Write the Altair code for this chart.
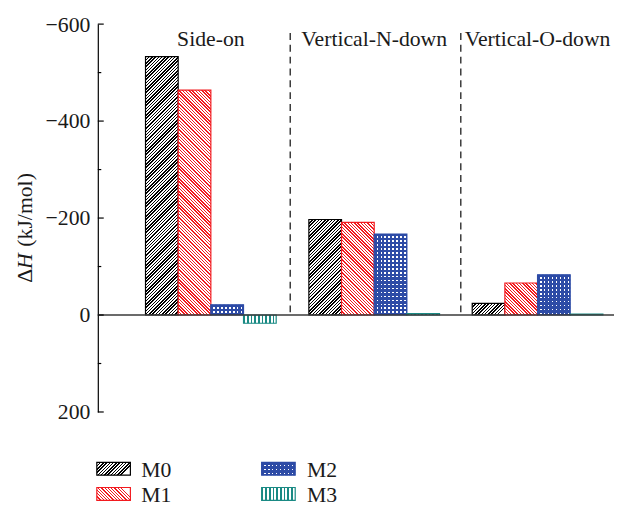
import altair as alt
import pandas as pd

# ---------------- data ----------------
groups = ["Side-on", "Vertical-N-down", "Vertical-O-down"]
series = ["M0", "M1", "M2", "M3"]
m0 = [-533, -197, -24]
m1 = [-464, -191, -66]
m2 = [-21, -167, -83]
m3 = [17, -3, -2]
y_ticks = [-600, -400, -200, 0, 200]
y_minor = [-500, -300, -100, 100]
separators = [0.486, 1.53]

values = {"M0": m0, "M1": m1, "M2": m2, "M3": m3}
rows = []
for si, s in enumerate(series):
    for gi, g in enumerate(groups):
        rows.append({"group": g, "gi": gi, "series": s, "si": si, "value": values[s][gi]})
df = pd.DataFrame(rows)

# ---------------- layout / style ----------------
PLOT_W, PLOT_H = 523, 393
LEFT, TOP = 99, 21  # page pixel of plot origin
X_DOM = [-0.692, 2.468]
Y_DOM = [-600, 200]
BAR_W = 0.2
PX_X = PLOT_W / (X_DOM[1] - X_DOM[0])
PX_Y = PLOT_H / (Y_DOM[1] - Y_DOM[0])
FONT = "Liberation Serif"
FS = 22

colors = {"M0": "#000000", "M1": "#f21a1f", "M2": "#2d4ba6", "M3": "#1a8a84"}

xs = alt.Scale(domain=X_DOM, nice=False, zero=False)
ys = alt.Scale(domain=Y_DOM, reverse=True, nice=False, zero=False)
yaxis = alt.Axis(values=y_ticks, ticks=False, grid=False, domain=True,
                 domainColor="#000000", domainWidth=1.2, labelFont=FONT,
                 labelFontSize=FS, labelColor="#1a1a1a", labelPadding=8,
                 title=None)


def xv(px):
    return X_DOM[0] + (px - LEFT) / PX_X


def yv(py):
    return Y_DOM[0] + (py - TOP) / PX_Y


def XF(field):
    return alt.X(field, type="quantitative", scale=xs, axis=None)


def YF(field):
    return alt.Y(field, type="quantitative", scale=ys, axis=yaxis)


def XD(v):
    return alt.X(datum=v, type="quantitative", scale=xs, axis=None)


def YD(v):
    return alt.Y(datum=v, type="quantitative", scale=ys, axis=yaxis)


def stripe_stops(L, smax, period, duty, fg, bg):
    stops = []
    k = 0
    while k * period <= smax:
        a = k * period / L
        b = (k * period + duty * period) / L
        c = (k + 1) * period / L
        for off, col in ((a, fg), (b, fg), (b, bg), (c, bg)):
            stops.append(alt.GradientStop(offset=round(min(off, 1.0), 5), color=col))
        if c >= 1:
            break
        k += 1
    return stops


def pattern(kind, w, h, fg, bg="#ffffff", period=3.4, duty=0.45):
    h = max(h, 0.5)
    if kind == "fwd":
        L = (w * w + h * h) / w
        st = stripe_stops(L, w + h, period, duty, fg, bg)
        return alt.LinearGradient(gradient="linear", stops=st, x1=0, y1=0, x2=1, y2=h / w)
    if kind == "back":
        L = (w * w + h * h) / w
        st = stripe_stops(L, w + h, period, duty, fg, bg)
        return alt.LinearGradient(gradient="linear", stops=st, x1=0, y1=1, x2=1, y2=1 - h / w)
    if kind == "vert":
        st = stripe_stops(w, w, period, duty, fg, bg)
        return alt.LinearGradient(gradient="linear", stops=st, x1=0, y1=0, x2=1, y2=0)
    st = stripe_stops(h, h, period, duty, fg, bg)
    return alt.LinearGradient(gradient="linear", stops=st, x1=0, y1=0, x2=0, y2=1)


def fills(s, w, h):
    """list of (fill, stroke?) layers for a series style"""
    c = colors[s]
    if s == "M0":
        return [(pattern("fwd", w, h, c, period=3.3, duty=0.45), True)]
    if s == "M1":
        return [(pattern("back", w, h, c, period=3.3, duty=0.42), True)]
    if s == "M3":
        return [(pattern("vert", w, h, c, period=3.7, duty=0.45), True)]
    return [(pattern("horiz", w, h, c, period=4.0, duty=0.6), False),
            (pattern("vert", w, h, c, bg="rgba(255,255,255,0)", period=4.0, duty=0.6), True)]


layers = []
bar_w_px = BAR_W * PX_X

# ---------------- bars ----------------
for _, r in df.iterrows():
    h_px = abs(r["value"]) * PX_Y
    for fill, stroke in fills(r["series"], bar_w_px, h_px):
        mk = dict(fill=fill, strokeWidth=1.2)
        if stroke:
            mk["stroke"] = colors[r["series"]]
        else:
            mk["strokeWidth"] = 0
        layers.append(
            alt.Chart(df)
            .transform_filter((alt.datum.gi == int(r["gi"])) & (alt.datum.si == int(r["si"])))
            .transform_calculate(x0=f"datum.gi + (datum.si - 2) * {BAR_W}",
                                 x1=f"datum.gi + (datum.si - 1) * {BAR_W}")
            .mark_rect(**mk)
            .encode(x=XF("x0"), x2="x1:Q", y=YF("value"), y2=alt.Y2(datum=0))
        )

# ---------------- zero line ----------------
layers.append(
    alt.Chart(pd.DataFrame({"a": [0]}))
    .mark_rule(color="#3a3a3a", strokeWidth=1.5)
    .encode(x=XD(X_DOM[0]), x2=alt.X2(datum=X_DOM[1]), y=YD(0))
)

# ---------------- dashed separators ----------------
layers.append(
    alt.Chart(pd.DataFrame({"sx": separators}))
    .mark_rule(color="#3a3a3a", strokeWidth=1.5, strokeDash=[7, 5])
    .encode(x=XF("sx"), y=YD(yv(30)), y2=alt.Y2(datum=0))
)

# ---------------- axis ticks (inward) ----------------
layers.append(
    alt.Chart(pd.DataFrame({"t": y_ticks}))
    .mark_rule(color="#000000", strokeWidth=1.2)
    .encode(y=YF("t"), x=alt.value(0), x2=alt.value(6))
)
layers.append(
    alt.Chart(pd.DataFrame({"t": y_minor}))
    .mark_rule(color="#000000", strokeWidth=1.2)
    .encode(y=YF("t"), x=alt.value(0), x2=alt.value(3.5))
)

# ---------------- group labels ----------------
layers.append(
    alt.Chart(pd.DataFrame({"g": groups, "gi": [0, 1, 2]}))
    .mark_text(font=FONT, fontSize=FS, color="#1a1a1a", baseline="alphabetic", align="center")
    .encode(x=XF("gi"), y=YD(yv(43)), text="g:N")
)

# ---------------- y title (ΔH italic H) ----------------
tx = 25 - LEFT
ty0 = 283 - TOP
w_delta = 14.0
w_h = 16.5
w_sp = 6.0
for txt, off, style in (("Δ", 0, "normal"), ("H", w_delta, "italic"),
                        ("(kJ/mol)", w_delta + w_h + w_sp, "normal")):
    layers.append(
        alt.Chart(pd.DataFrame({"t": [txt]}))
        .mark_text(font=FONT, fontSize=FS, fontStyle=style, color="#1a1a1a", angle=270,
                   align="left", baseline="middle")
        .encode(x=alt.value(tx), y=alt.value(ty0 - off), text="t:N")
    )

# ---------------- legend ----------------
leg_rows = [471.5, 497]
leg_cols = [(98, 132, 143), (265, 299, 311)]
sw_h = 13
for k, s in enumerate(series):
    col, row = k // 2, k % 2
    x0p, x1p, lxp = leg_cols[col]
    cy = leg_rows[row]
    for fill, stroke in fills(s, x1p - x0p, sw_h):
        mk = dict(fill=fill, strokeWidth=1.2)
        if stroke:
            mk["stroke"] = colors[s]
        else:
            mk["strokeWidth"] = 0
        layers.append(
            alt.Chart(pd.DataFrame({"s": [s]}))
            .mark_rect(**mk)
            .encode(x=XD(xv(x0p)), x2=alt.X2(datum=xv(x1p)),
                    y=YD(yv(cy - sw_h / 2)), y2=alt.Y2(datum=yv(cy + sw_h / 2)))
        )
    layers.append(
        alt.Chart(pd.DataFrame({"s": [s]}))
        .mark_text(font=FONT, fontSize=FS, color="#1a1a1a", align="left", baseline="middle")
        .encode(x=XD(xv(lxp)), y=YD(yv(cy + 1)), text="s:N")
    )

chart = (
    alt.layer(*layers)
    .properties(width=PLOT_W, height=PLOT_H, autosize="none",
                padding={"left": LEFT - 8, "top": TOP - 8, "right": 0, "bottom": 97})
    .configure_view(stroke=None)
)

chart.save("out.html", embed_options={"renderer": "svg", "actions": False})
